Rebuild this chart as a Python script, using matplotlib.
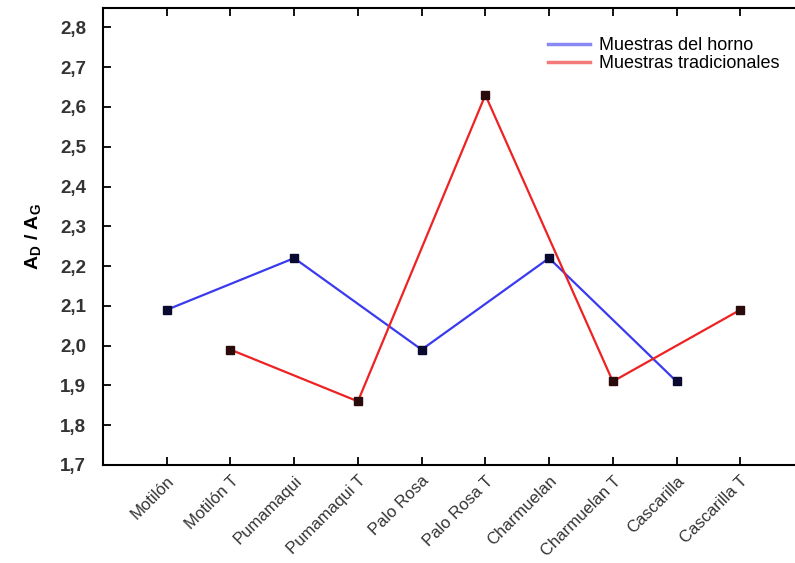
import matplotlib
matplotlib.use("Agg")
import matplotlib.pyplot as plt
from matplotlib.ticker import FuncFormatter, MultipleLocator

plt.rcParams['font.family'] = ['Liberation Sans', 'DejaVu Sans']

# categories along the x axis
categories = ['Motilón', 'Motilón T', 'Pumamaqui', 'Pumamaqui T', 'Palo Rosa',
              'Palo Rosa T', 'Charmuelan', 'Charmuelan T', 'Cascarilla', 'Cascarilla T']

# oven samples (even positions) and traditional samples (odd positions)
horno_idx = [0, 2, 4, 6, 8]
horno_vals = [2.09, 2.22, 1.99, 2.22, 1.91]
trad_idx = [1, 3, 5, 7, 9]
trad_vals = [1.99, 1.86, 2.63, 1.91, 2.09]

fig = plt.figure(figsize=(7.95, 5.63), dpi=100)
ax = fig.add_axes([103 / 795, 1 - 465 / 563, 701 / 795, (465 - 7.5) / 563])

ax.plot(horno_idx, horno_vals, color='#3a3aee', lw=1.6, label='Muestras del horno',
        marker='s', ms=6, mfc='#0a0a30', mec='#0a0a30')
ax.plot(trad_idx, trad_vals, color='#ee2222', lw=1.6, label='Muestras tradicionales',
        marker='s', ms=6, mfc='#2a0a0a', mec='#2a0a0a')

ax.set_xlim(-1, 10)
ax.set_ylim(1.7, 2.85)
ax.yaxis.set_major_locator(MultipleLocator(0.1))
ax.yaxis.set_major_formatter(FuncFormatter(lambda v, p: f"{v:.1f}".replace('.', ',')))
ax.set_xticks(range(len(categories)))
ax.set_xticklabels(categories, rotation=45, ha='right', rotation_mode='anchor',
                   fontsize=12, color='#333333')
for lbl in ax.get_yticklabels():
    lbl.set_fontsize(13.5)
    lbl.set_fontweight('bold')
    lbl.set_color('#333333')

ax.tick_params(direction='in', length=6, width=1.3, top=True, right=True)
ax.tick_params(axis='y', pad=12)
ax.tick_params(axis='x', pad=6)
for s in ax.spines.values():
    s.set_linewidth(1.5)

ax.set_ylabel(r'A$_\mathregular{D}$ / A$_\mathregular{G}$', fontsize=14,
              fontweight='bold', labelpad=12)

leg = ax.legend(loc='upper left', bbox_to_anchor=(0.612, 0.97), frameon=False,
                fontsize=13, handlelength=2.3, handletextpad=0.5, labelspacing=0.05)
for h in leg.get_lines():
    h.set_marker('')
    h.set_alpha(0.6)
    h.set_linewidth(2.5)

fig.savefig('out.png', dpi=100)
